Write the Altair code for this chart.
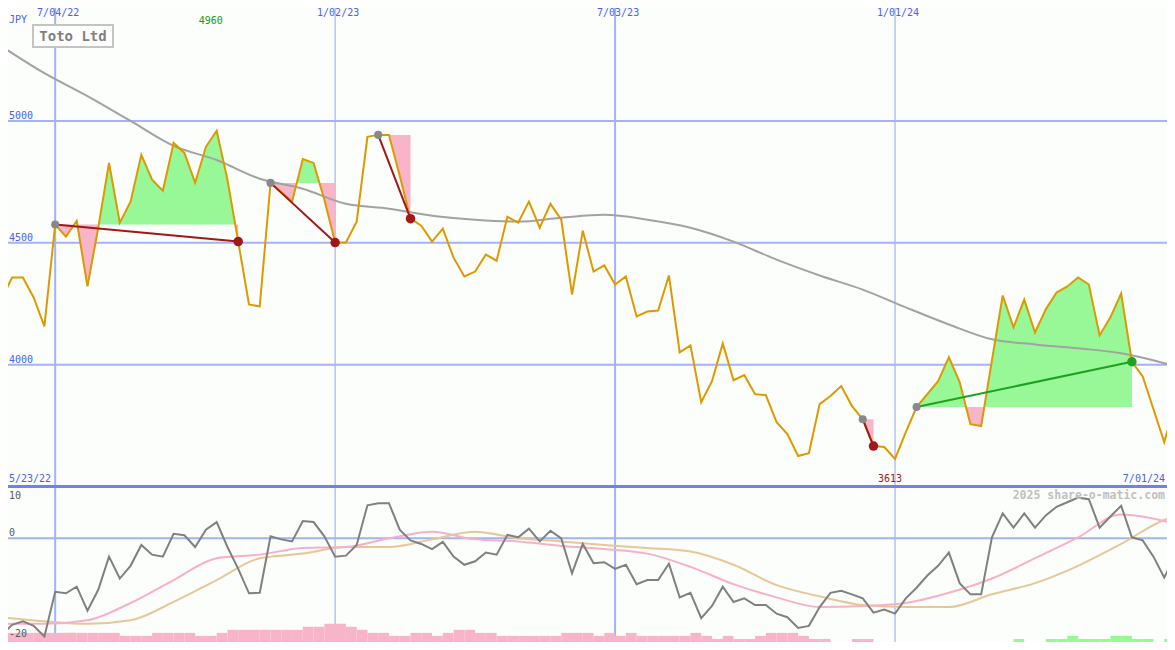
import altair as alt
import pandas as pd

# ---------------- data ----------------
start_date = "2022-05-30"          # first weekly close
price = [4267, 4358, 4358, 4276, 4157, 4575, 4525, 4590, 4321, 4562,
         4828, 4583, 4669, 4861, 4759, 4714, 4910, 4869, 4746, 4894,
         4960, 4759, 4505, 4247, 4239, 4746, 4709, 4669, 4844, 4828,
         4677, 4501, 4501, 4587, 4935, 4943, 4943, 4775, 4599, 4570,
         4505, 4558, 4439, 4362, 4382, 4452, 4427, 4607, 4583, 4669,
         4562, 4660, 4595, 4288, 4550, 4382, 4407, 4329, 4362, 4198,
         4218, 4222, 4366, 4051, 4079, 3846, 3932, 4087, 3936, 3957,
         3879, 3875, 3764, 3715, 3625, 3637, 3838, 3871, 3912, 3830,
         3776, 3666, 3662, 3613, 3723, 3826, 3879, 3932, 4030, 3928,
         3756, 3748, 4018, 4284, 4153, 4267, 4132, 4227, 4296, 4321,
         4358, 4329, 4120, 4194, 4292, 4012, 3952, 3817, 3682, 3838]

ma_weeks = [0, 4, 8, 12, 16, 20, 24, 28, 32, 36, 40, 44, 48, 52, 56, 60,
            64, 68, 72, 76, 80, 84, 88, 92, 96, 100, 104, 108, 109]
ma_price = [5307, 5196, 5102, 5000, 4898, 4840, 4763, 4722, 4660, 4640,
            4611, 4595, 4587, 4603, 4615, 4595, 4562, 4505, 4431, 4366,
            4308, 4235, 4165, 4104, 4083, 4067, 4047, 4006, 3993]

momentum = [-19.1, -17.0, -16.3, -17.2, -19.3, -10.5, -10.8, -9.5, -14.2, -10.1,
            -3.6, -7.9, -5.4, -1.3, -3.2, -3.6, 0.9, 0.6, -1.7, 1.7,
            3.2, -1.7, -6.0, -10.8, -10.7, 0.4, -0.2, -0.6, 3.4, 3.2,
            0.4, -3.6, -3.4, -1.3, 6.5, 6.9, 6.9, 1.7, -0.4, -1.1,
            -2.1, -0.7, -3.6, -5.2, -4.5, -2.8, -3.2, 0.7, 0.2, 1.9,
            -0.6, 1.5, 0.0, -6.9, -1.1, -4.9, -4.7, -6.0, -5.2, -9.0,
            -8.2, -8.2, -5.0, -11.6, -10.7, -15.7, -13.3, -9.5, -12.5, -11.8,
            -13.1, -13.1, -14.8, -15.5, -17.6, -17.2, -13.5, -10.7, -10.3, -11.0,
            -11.8, -14.6, -14.0, -14.8, -11.8, -9.7, -7.3, -5.4, -2.8, -8.8,
            -11.0, -11.0, 0.2, 4.9, 2.1, 4.9, 2.1, 4.5, 6.2, 7.1,
            8.0, 7.7, 2.1, 4.3, 6.4, 0.2, -0.4, -3.6, -7.7, -3.6]

pink_ma = [-16.8, -16.8, -16.1, -12.7, -8.2, -3.9, -3.2, -1.9, -1.7, 0.0,
           1.3, -0.2, -0.6, -1.5, -2.1, -3.0, -5.6, -9.0, -11.6, -13.5,
           -13.3, -12.7, -10.7, -7.9, -3.9, 0.2, 4.7, 3.4, 2.8]
tan_ma = [-15.5, -16.3, -16.8, -16.1, -12.5, -8.2, -3.9, -3.0, -1.7, -1.7,
          -0.2, 1.3, 0.0, -0.6, -1.3, -1.9, -2.6, -5.2, -9.2, -11.4,
          -13.1, -13.5, -13.5, -11.0, -8.8, -5.4, -1.1, 3.6, 4.3]

hist = [-3, -3, -3, -3, -3, -3, -3, -3, -3, -3, -3,
        -2, -2, -2, -3, -3, -3, -3, -2, -2, -3,
        -4, -4, -4, -4, -4, -4, -4, -5, -5, -6, -6, -5, -4,
        -3, -3, -2, -2, -3, -3, -2, -3, -4, -4, -3, -3,
        -2, -2, -2, -2, -2, -2, -3, -3, -3, -2, -3, -2, -3,
        -2, -2, -2, -2, -2, -3, -2, -1, -2, -1, -1, -2,
        -3, -3, -3, -2, -1, -1, 0, 0, -1, -1,
        0, 0, 0, 0, 0, 0, 0, 0, 0, 0, 0, 0, 0,
        1, 0, 0, 1, 1, 2, 1, 1, 1, 2, 2, 1, 1, 0, 1, 0]

trade_entry = [5, 25, 35, 80, 85]
trade_exit = [22, 31, 38, 81, 105]

grid_dates = ["2022-07-04", "2023-01-02", "2023-07-03", "2024-01-01"]
grid_labels = ["7/04/22", "1/02/23", "7/03/23", "1/01/24"]
grid_width = [2.0, 1.2, 2.0, 1.2]
price_levels = [4000, 4500, 5000]
price_level_labels = ["4000", "4500", "5000"]

# ---------------- styling ----------------
MONO = "DejaVu Sans Mono"
BG = "#fbfefb"
GRID = "#a3b3f3"
SEP = "#6f80ef"
BLUE_TXT = "#4d60ee"
PRICE_C = "#dd9900"
MA_C = "#a2a2a2"
GREEN_F = "#98f898"
PINK_F = "#f8b4c8"
LOSS = "#a01818"
GAIN = "#20a020"
ENTRY = "#888888"
MOM_C = "#808080"
PINK_L = "#f8b0c8"
TAN_L = "#e6c898"
AXT = "#585858"

# whole chart fits inside the page (8px margin all round)
W, H = 1159, 634
H1 = 479                      # bottom of the price panel

# ---------------- frames ----------------
dates = pd.date_range(start_date, periods=len(price), freq="7D")
pdf = pd.DataFrame({"d": dates, "p": price})
madf = pd.DataFrame({"d": [dates[i] for i in ma_weeks], "p": ma_price})
momdf = pd.DataFrame({"d": dates, "v": momentum})
pinkdf = pd.DataFrame({"d": [dates[i] for i in ma_weeks], "v": pink_ma})
tandf = pd.DataFrame({"d": [dates[i] for i in ma_weeks], "v": tan_ma})
histdf = pd.DataFrame({"d": dates, "d2": dates + pd.Timedelta(days=7),
                       "h": [abs(v) for v in hist], "z": 0,
                       "c": [GREEN_F if v > 0 else PINK_F for v in hist]})
histdf = histdf[histdf["h"] > 0]
gdf = pd.DataFrame({"d": pd.to_datetime(grid_dates), "lab": grid_labels, "w": grid_width})
lvdf = pd.DataFrame({"v": price_levels, "lab": price_level_labels})

rows = []
for t, (a, b) in enumerate(zip(trade_entry, trade_exit)):
    lvl = price[a]
    for i in range(a, b + 1):
        if i > a:
            p0, p1 = price[i - 1], price[i]
            if (p0 - lvl) * (p1 - lvl) < 0:
                f = (lvl - p0) / (p1 - p0)
                rows.append(dict(trade=t, d=dates[i - 1] + (dates[i] - dates[i - 1]) * f,
                                 p=lvl, level=lvl))
        rows.append(dict(trade=t, d=dates[i], p=price[i], level=lvl))
fill = pd.DataFrame(rows)
fill["hi"] = fill[["p", "level"]].max(axis=1)
fill["lo"] = fill[["p", "level"]].min(axis=1)

trades = pd.DataFrame({
    "d0": [dates[a] for a in trade_entry], "p0": [price[a] for a in trade_entry],
    "d1": [dates[b] for b in trade_exit], "p1": [price[b] for b in trade_exit],
    "c": [GAIN if price[b] > price[a] else LOSS for a, b in zip(trade_entry, trade_exit)],
})

imax = max(range(len(price)), key=lambda i: price[i])
imin = min(range(len(price)), key=lambda i: price[i])
maxdf = pd.DataFrame({"d": [dates[imax]], "t": [str(price[imax])]})
mindf = pd.DataFrame({"d": [dates[imin]], "t": [str(price[imin])]})

# ---------------- scales ----------------
X = alt.Scale(domain=[alt.DateTime(year=2022, month=6, date=3, hours=8),
                      alt.DateTime(year=2024, month=6, date=25, hours=19, minutes=18)])
YP = alt.Scale(domain=[3497.9, 5463.7], range=[H1, 0], nice=False, zero=False)
YM = alt.Scale(domain=[-20.37, 10.09], range=[H, H1], nice=False, zero=False)
YH = alt.Scale(domain=[0, 50.9], range=[H, H1], nice=False, zero=False)


def xe(f):
    return alt.X(f, type="temporal", scale=X, axis=None)


def yp(f):
    return alt.Y(f, type="quantitative", scale=YP, axis=None)


def ym(f):
    return alt.Y(f, type="quantitative", scale=YM, axis=None)


def label(text, x, y, color, size=10, align="left", weight="normal"):
    return alt.Chart(pd.DataFrame({"t": [text]})).mark_text(
        align=align, baseline="middle", font=MONO, fontSize=size,
        color=color, fontWeight=weight).encode(
        x=alt.value(x), y=alt.value(y), text="t:N")


# ---------------- grid ----------------
v_grid = alt.Chart(gdf).mark_rule(color=GRID).encode(
    x=xe("d"), strokeWidth=alt.StrokeWidth("w:Q", scale=None, legend=None))
h_grid = alt.Chart(lvdf).mark_rule(color=GRID, strokeWidth=2).encode(y=yp("v"))
sep = alt.Chart(pd.DataFrame({"v": [3500]})).mark_rule(color=SEP, strokeWidth=3).encode(y=yp("v"))
zero_rule = alt.Chart(pd.DataFrame({"v": [0]})).mark_rule(color=GRID, strokeWidth=2).encode(y=ym("v"))

# ---------------- price panel ----------------
green_area = alt.Chart(fill).mark_area(color=GREEN_F, opacity=1, clip=True).encode(
    x=xe("d"), y=yp("hi"), y2="level:Q", detail="trade:N")
pink_area = alt.Chart(fill).mark_area(color=PINK_F, opacity=1, clip=True).encode(
    x=xe("d"), y=yp("lo"), y2="level:Q", detail="trade:N")

ma_line = alt.Chart(madf).mark_line(color=MA_C, strokeWidth=2, interpolate="monotone",
                                    clip=True).encode(x=xe("d"), y=yp("p"))
price_line = alt.Chart(pdf).mark_line(color=PRICE_C, strokeWidth=2, clip=True).encode(
    x=xe("d"), y=yp("p"))

trade_lines = alt.Chart(trades).mark_rule(strokeWidth=2).encode(
    x=xe("d0"), x2="d1:T", y=yp("p0"), y2="p1:Q", color=alt.Color("c:N", scale=None))
entry_pts = alt.Chart(trades).mark_circle(size=65, opacity=1, color=ENTRY).encode(
    x=xe("d0"), y=yp("p0"))
exit_pts = alt.Chart(trades).mark_circle(size=90, opacity=1).encode(
    x=xe("d1"), y=yp("p1"), color=alt.Color("c:N", scale=None))

date_labels = alt.Chart(gdf).mark_text(font=MONO, fontSize=10, color=BLUE_TXT, dx=3,
                                       baseline="middle").encode(
    x=xe("d"), y=alt.value(4.5), text="lab:N")
level_labels = alt.Chart(lvdf).mark_text(font=MONO, fontSize=10, color=BLUE_TXT, align="left",
                                         baseline="alphabetic", dy=-2).encode(
    x=alt.value(1), y=yp("v"), text="lab:N")
max_label = alt.Chart(maxdf).mark_text(font=MONO, fontSize=10, color="#1a9a1a", dx=-6,
                                       baseline="middle").encode(
    x=xe("d"), y=alt.value(13), text="t:N")
min_label = alt.Chart(mindf).mark_text(font=MONO, fontSize=10, color=LOSS, dx=-5,
                                       baseline="middle").encode(
    x=xe("d"), y=alt.value(471), text="t:N")

title_box = alt.Chart(pd.DataFrame({"a": [0]})).mark_rect(
    fill="white", stroke="#c4c4c4", strokeWidth=2).encode(
    x=alt.value(25), x2=alt.value(105), y=alt.value(17), y2=alt.value(39))
title_txt = label("Toto Ltd", 65, 29, "#808080", size=14, align="center", weight="bold")

# ---------------- lower panel ----------------
hist_bars = alt.Chart(histdf).mark_rect(clip=True).encode(
    x=xe("d"), x2="d2:T",
    y=alt.Y("h:Q", scale=YH, axis=None), y2="z:Q",
    color=alt.Color("c:N", scale=None))
tan_line = alt.Chart(tandf).mark_line(color=TAN_L, strokeWidth=2, interpolate="monotone",
                                      clip=True).encode(x=xe("d"), y=ym("v"))
pink_line = alt.Chart(pinkdf).mark_line(color=PINK_L, strokeWidth=2, interpolate="monotone",
                                        clip=True).encode(x=xe("d"), y=ym("v"))
mom_line = alt.Chart(momdf).mark_line(color=MOM_C, strokeWidth=2, clip=True).encode(
    x=xe("d"), y=ym("v"))

chart = alt.layer(
    v_grid, h_grid, zero_rule,
    green_area, pink_area, ma_line, price_line, trade_lines, entry_pts, exit_pts,
    hist_bars, tan_line, pink_line, mom_line,
    sep,
    date_labels, level_labels, max_label, min_label,
    label("JPY", 1, 12, BLUE_TXT),
    label("5/23/22", 1, 471, BLUE_TXT),
    label("7/01/24", 1157, 471, BLUE_TXT, align="right"),
    title_box, title_txt,
    label("10", 1, 488, AXT),
    label("0", 1, 524.5, AXT),
    label("-20", 1, 625.5, AXT),
    label("2025 share-o-matic.com", 1157, 488, "#c0c0c0", size=11.5,
          align="right", weight="bold"),
).resolve_scale(y="independent").properties(
    width=W, height=H,
    background=BG,
    padding=0,
    autosize=alt.AutoSizeParams(type="none"),
).configure_view(strokeWidth=0)

chart.save("out.html", embed_options={"renderer": "svg", "actions": False})
